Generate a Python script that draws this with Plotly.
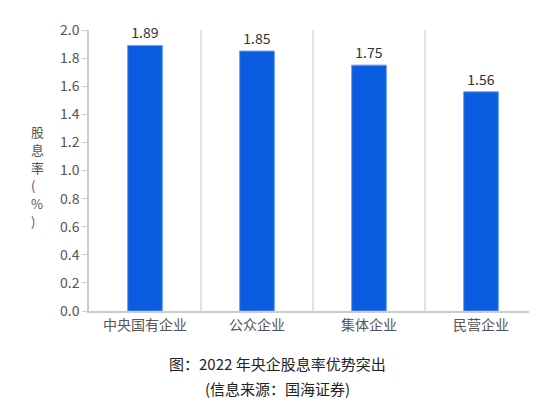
import plotly.graph_objects as go

categories = ["中央国有企业", "公众企业", "集体企业", "民营企业"]
yields = [1.89, 1.85, 1.75, 1.56]
y_ticks = [0.0, 0.2, 0.4, 0.6, 0.8, 1.0, 1.2, 1.4, 1.6, 1.8, 2.0]
y_title = ["股", "息", "率", "(", "%", ")"]

font = "Noto Sans CJK SC"
grey = "#555555"

fig = go.Figure()
fig.add_trace(go.Bar(
    x=categories, y=yields, width=0.31,
    marker=dict(color="#0a5ce0", line=dict(color="#6f9fe8", width=1)),
    text=["%.2f" % v for v in yields], textposition="outside",
    textfont=dict(size=14, color="#333333", family=font),
    cliponaxis=False,
))

for i in range(len(categories) - 1):
    fig.add_shape(type="line", xref="x", yref="paper", x0=i + 0.5, x1=i + 0.5,
                  y0=0, y1=1, line=dict(color="#d9d9d9", width=1.5))

annotations = [
    dict(text="图：2022 年央企股息率优势突出", xref="paper", yref="paper",
         x=0.42, y=-0.23, showarrow=False, font=dict(size=15, color="#222222")),
    dict(text="(信息来源：国海证券)", xref="paper", yref="paper",
         x=0.42, y=-0.32, showarrow=False, font=dict(size=15, color="#222222")),
]
for i, ch in enumerate(y_title):
    annotations.append(dict(text=ch, xref="paper", yref="paper", x=-0.135, y=0.68,
                            yshift=-i * 18, showarrow=False,
                            font=dict(size=13, color=grey)))

fig.update_layout(
    width=537, height=418, plot_bgcolor="white", paper_bgcolor="white",
    margin=dict(l=81, r=8, t=22, b=115), showlegend=False,
    font=dict(family=font, color=grey, size=14),
    annotations=annotations,
)
fig.update_xaxes(showline=True, linecolor="#cccccc", linewidth=1.5, ticks="",
                 tickfont=dict(size=14, color=grey))
fig.update_yaxes(range=[0, 2.0], tickvals=y_ticks, ticktext=["%.1f" % v for v in y_ticks],
                 showgrid=False, showline=True, linecolor="#cccccc", linewidth=1.5,
                 ticks="outside", ticklen=5, tickcolor="#cccccc",
                 tickfont=dict(size=14, color=grey))

fig.write_html("out.html")
